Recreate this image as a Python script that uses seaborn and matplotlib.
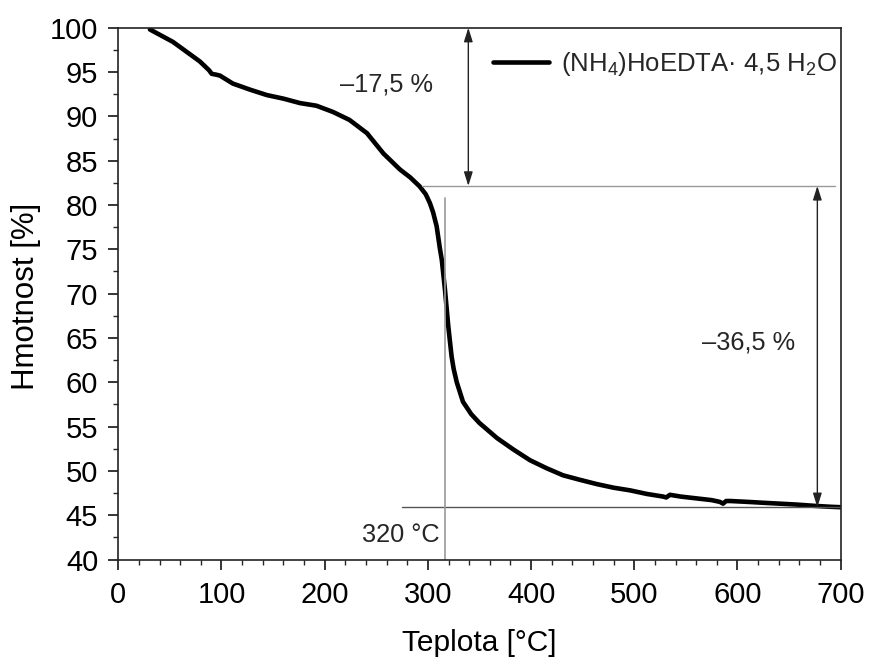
import matplotlib
matplotlib.use("Agg")
import matplotlib.pyplot as plt
import seaborn as sns
import pandas as pd
from matplotlib.ticker import MultipleLocator

# ---- data ----
temperature = [30.7, 53, 79, 88, 90.5, 95, 98.5, 111, 128, 144, 160, 176, 192, 208,
               224, 241, 257, 273, 283, 292, 298, 302, 305, 308.5, 311.5, 313.5,
               316.6, 319.8, 323, 325, 328, 334, 342, 350, 367, 383, 399, 415, 431,
               447, 464, 480, 496, 512, 528, 531, 534.6, 545, 560, 575, 583, 586,
               589, 593, 610, 625, 641, 657, 675, 690, 700]
mass = [99.8, 98.4, 96.2, 95.2, 94.8, 94.7, 94.6, 93.7, 93.0, 92.4, 92.0, 91.5, 91.2,
        90.5, 89.6, 88.1, 85.8, 84.0, 83.1, 82.1, 81.2, 80.2, 79.2, 77.6, 75.2, 73.8,
        70.4, 66.3, 62.9, 61.5, 60.0, 57.8, 56.4, 55.4, 53.7, 52.4, 51.2, 50.3, 49.5,
        49.0, 48.5, 48.1, 47.8, 47.4, 47.1, 47.0, 47.3, 47.1, 46.9, 46.7, 46.5, 46.3,
        46.6, 46.6, 46.5, 46.4, 46.3, 46.2, 46.05, 45.95, 45.9]
series_label = "(NH$_4$)HoEDTA· 4,5 H$_2$O"
step1_label = "–17,5 %"
step2_label = "–36,5 %"
temp_label = "320 °C"
x_ticks = [0, 100, 200, 300, 400, 500, 600, 700]
y_ticks = [40, 45, 50, 55, 60, 65, 70, 75, 80, 85, 90, 95, 100]

df = pd.DataFrame({"Teplota": temperature, "Hmotnost": mass})

sns.set_theme(style="ticks")
plt.rcParams["font.family"] = ["Liberation Sans", "DejaVu Sans"]
plt.rcParams["mathtext.default"] = "regular"

fig = plt.figure(figsize=(8.69, 6.57), dpi=100)
ax = fig.add_axes([0.1361, 0.1484, 0.9674 - 0.1361, 0.9578 - 0.1484])

sns.lineplot(data=df, x="Teplota", y="Hmotnost", sort=False, ax=ax,
             color="black", linewidth=3.3, label=series_label)

ax.set_xlim(0, 700)
ax.set_ylim(40, 100)
ax.set_xticks(x_ticks)
ax.set_yticks(y_ticks)
ax.xaxis.set_minor_locator(MultipleLocator(20))
ax.yaxis.set_minor_locator(MultipleLocator(2.5))
ax.tick_params(axis="both", which="major", direction="out", length=7.5, width=1.1,
               labelsize=21, colors="black")
ax.tick_params(axis="x", which="major", pad=8)
ax.tick_params(axis="y", which="major", pad=7)
ax.tick_params(axis="both", which="minor", direction="out", length=3.8, width=1.0)
for s in ax.spines.values():
    s.set_color("#222222")
    s.set_linewidth(1.2)

ax.set_xlabel("Teplota [°C]", fontsize=21.5, color="black", va="center")
ax.set_ylabel("Hmotnost [%]", fontsize=22.5, color="black", va="center")
ax.xaxis.set_label_coords(0.5, -0.157)
ax.yaxis.set_label_coords(-0.128, 0.495)

# guide lines
ax.plot([294, 694.5], [82.15, 82.15], color="#999999", lw=1.0)
ax.plot([274.6, 700], [45.9, 45.9], color="#555555", lw=1.0)
ax.plot([316.6, 316.6], [40, 80.8], color="#999999", lw=1.2)

arrow_kw = dict(arrowstyle="<|-|>,head_length=0.7,head_width=0.22",
                color="#222222", lw=1.0, shrinkA=0, shrinkB=0)
ax.annotate("", xy=(339.2, 100), xytext=(339.2, 82.15), arrowprops=arrow_kw)
ax.annotate("", xy=(677.4, 82.15), xytext=(677.4, 45.9), arrowprops=arrow_kw)

ax.text(260, 93.6, step1_label, fontsize=18.3, ha="center", va="center")
ax.text(610.5, 64.5, step2_label, fontsize=18.3, ha="center", va="center")
ax.text(311.5, 42.8, temp_label, fontsize=18.3, ha="right", va="center")

leg = ax.legend(loc="upper right", bbox_to_anchor=(1.028, 1.004), frameon=False,
                fontsize=18.5, handlelength=2.2, handletextpad=0.45,
                borderaxespad=0.55)

fig.savefig("out.png", dpi=100)
